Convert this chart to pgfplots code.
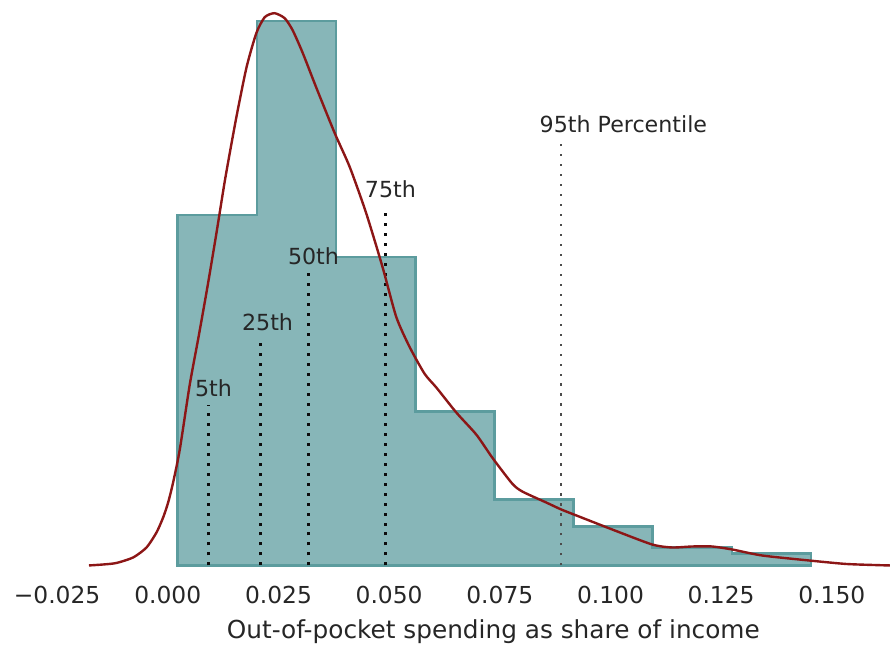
\documentclass[border=0pt]{standalone}
\usepackage{pgfplots}
\pgfplotsset{compat=1.18}
\usepackage{fontspec}
\setmainfont{DejaVu Sans}
\definecolor{barfill}{HTML}{87B6B8}
\definecolor{baredge}{HTML}{5C9C9E}
\definecolor{kde}{RGB}{140,22,22}
\definecolor{txt}{HTML}{262626}
\begin{document}
\begin{tikzpicture}
\begin{axis}[
  scale only axis, width=445.5pt, height=283pt,
  xmin=-0.0379, xmax=0.1631, ymin=0, ymax=566,
  axis line style={draw=none},
  ytick=\empty,
  xtick={-0.025,0,0.025,0.05,0.075,0.1,0.125,0.15},
  xticklabels={−0.025,0.000,0.025,0.050,0.075,0.100,0.125,0.150},
  major tick length=0pt,
  xticklabel style={anchor=base, yshift=-19pt, font=\fontsize{11.7}{14}\selectfont, text=txt},
  clip=false,
]
% histogram (step, filled)
\addplot[draw=baredge, line width=1.3pt, fill=barfill, line join=miter] coordinates {
 (0.00226,0) (0.00226,351) (0.02014,351) (0.02014,545) (0.03802,545) (0.03802,309)
 (0.0559,309) (0.0559,154) (0.07378,154) (0.07378,66) (0.09166,66) (0.09166,39)
 (0.10954,39) (0.10954,18) (0.12742,18) (0.12742,12) (0.1453,12) (0.1453,0)
} -- cycle;
% percentile lines
\addplot[black!95, line width=1.5pt, dash pattern=on 1.5pt off 3.5pt] coordinates {(0.00925,0) (0.00925,161)};
\addplot[black!95, line width=1.5pt, dash pattern=on 1.5pt off 3.5pt] coordinates {(0.0210,0) (0.0210,229)};
\addplot[black!95, line width=1.5pt, dash pattern=on 1.5pt off 3.5pt] coordinates {(0.0318,0) (0.0318,296)};
\addplot[black!95, line width=1.5pt, dash pattern=on 1.5pt off 3.5pt] coordinates {(0.0492,0) (0.0492,357)};
\addplot[black!70, line width=1.1pt, dash pattern=on 1.1pt off 3.9pt] coordinates {(0.0889,0) (0.0889,427)};
% KDE
\addplot[kde, line width=1.2pt, smooth, tension=0.4] coordinates {
 (-0.0178,0) (-0.0145,1) (-0.01157,2.5) (-0.00782,8) (-0.0048,18) (-0.00255,33)
 (-0.00105,48) (0.00008,63) (0.0012,83) (0.00271,116) (0.00496,181) (0.0070,230)
 (0.0090,280) (0.0110,333) (0.0130,388) (0.0155,449) (0.0178,499) (0.0200,533)
 (0.0219,549) (0.0241,553) (0.0264,548) (0.0282,536) (0.0305,513) (0.0335,479)
 (0.0377,433) (0.0411,399) (0.0448,353) (0.0485,299) (0.0516,249) (0.0546,219)
 (0.0580,192) (0.0607,178) (0.0652,153) (0.0697,131) (0.0733,108) (0.0778,82)
 (0.0801,74) (0.0855,63) (0.0889,56) (0.0929,49) (0.1004,36) (0.1094,21)
 (0.1139,18) (0.1185,19) (0.1229,19) (0.1275,16) (0.1342,10) (0.1448,5)
 (0.1532,1.5) (0.1606,0.3) (0.1631,0)
};
% labels
\node[anchor=base west, inner sep=0pt, text=txt, font=\fontsize{11.1}{13}\selectfont] at (axis cs:0.00609,169) {5th};
\node[anchor=base west, inner sep=0pt, text=txt, font=\fontsize{11.1}{13}\selectfont] at (axis cs:0.01669,235) {25th};
\node[anchor=base west, inner sep=0pt, text=txt, font=\fontsize{11.1}{13}\selectfont] at (axis cs:0.02707,301) {50th};
\node[anchor=base west, inner sep=0pt, text=txt, font=\fontsize{11.1}{13}\selectfont] at (axis cs:0.04444,368) {75th};
\node[anchor=base west, inner sep=0pt, text=txt, font=\fontsize{11.1}{13}\selectfont] at (axis cs:0.08392,434) {95th Percentile};
\node[anchor=base, inner sep=0pt, text=txt, font=\fontsize{12.4}{15}\selectfont, yshift=-36.5pt] at (axis cs:0.07354,0) {Out-of-pocket spending as share of income};
\end{axis}
\path (current axis.north east) ([yshift=-42pt]current axis.south west);
\end{tikzpicture}
\end{document}
